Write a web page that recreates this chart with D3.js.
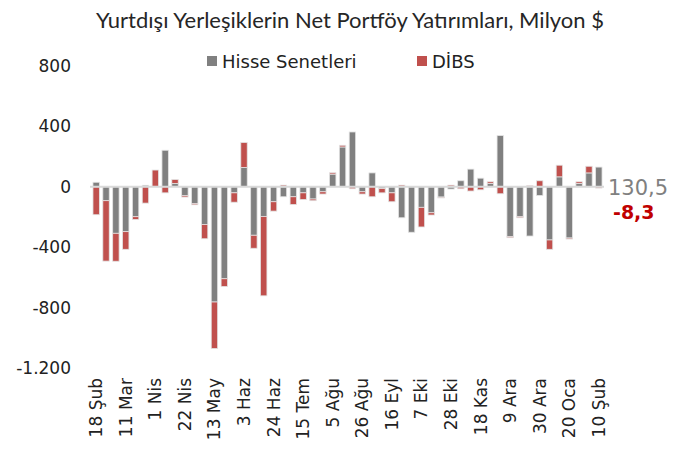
<!DOCTYPE html>
<html>
<head>
<meta charset="utf-8">
<script src="https://cdn.jsdelivr.net/npm/d3@7"></script>
<style>
	body { margin: 0; background: #fff; }
	text { font-family: "DejaVu Sans", sans-serif; }
</style>
</head>
<body>
<div id="chart"></div>
<script>
	// weekly net flows, million USD
	var hisse = [30, -92, -308, -297, -198, 10, 3, 242, 22, -59, -110, -249, -763, -609, -40, 128, -321, -196, -99,
		-66, -66, -40, -81, -33, 84, 264, 363, -33, 92, -11, -40, -205, -301, -136, -172, -68, -15, 40, 117,
		57, 22, 339, -330, -198, -326, -57, -352, 66, -339, 22, 92, 130.5];
	var dibs = [-185, -400, -185, -117, -18, -108, 108, -40, 26, -9, -9, -95, -308, -51, -62, 165, -86, -526, -62,
		11, -51, -44, -11, -15, 9, 11, -13, -15, -66, -29, -59, 11, 0, -130, -15, -6, 11, -13, -28,
		-20, 11, -46, -7, -7, 7, 40, -62, 77, -7, 11, 44, -8.3];
	var weekLabels = ["18 Şub", "11 Mar", "1 Nis", "22 Nis", "13 May", "3 Haz", "24 Haz", "15 Tem", "5 Ağu",
		"26 Ağu", "16 Eyl", "7 Eki", "28 Eki", "18 Kas", "9 Ara", "30 Ara", "20 Oca", "10 Şub"];
	var yTicks = [800, 400, 0, -400, -800, -1200];
	var seriesNames = ["Hisse Senetleri", "DİBS"];
	var colours = ["#808080", "#c0504d"];

	var width = 673, height = 454;

	var svg = d3.select("#chart")
	.append("svg")
	.attr("width", width)
	.attr("height", height);

	var x = d3.scaleBand()
	.domain(d3.range(hisse.length))
	.range([91, 604])
	.paddingInner(0.35)
	.paddingOuter(0.2);

	var y = d3.scaleLinear()
	.domain([-1200, 800])
	.range([368, 66]);

	// turkish style numbers: dot for thousands, comma for decimals, plain hyphen
	var fmt = function(v) {
		return String(v).replace(".", ",").replace(/\B(?=(\d{3})+(?!\d))/g, ".");
	};

	// title
	svg.append("text")
	.attr("x", 350)
	.attr("y", 28)
	.attr("text-anchor", "middle")
	.style("font-family", "Lato, sans-serif")
	.style("font-size", "22px")
	.style("fill", "#262626")
	.text("Yurtdışı Yerleşiklerin Net Portföy Yatırımları, Milyon $");

	// y axis labels
	svg.append("g").selectAll("text")
	.data(yTicks)
	.enter().append("text")
	.attr("x", 71)
	.attr("y", function(d) { return y(d); })
	.attr("dy", "0.35em")
	.attr("text-anchor", "end")
	.style("font-size", "17px")
	.style("fill", "#222")
	.text(fmt);

	// stacked bars: positives stack up, negatives stack down
	var bars = svg.append("g");
	hisse.forEach(function(h, i) {
		var pos = 0, neg = 0;
		[h, dibs[i]].forEach(function(v, s) {
			var base = v >= 0 ? pos : neg;
			var top = base + v;
			if (v >= 0) pos = top; else neg = top;
			bars.append("rect")
			.attr("x", x(i))
			.attr("width", x.bandwidth())
			.attr("y", y(Math.max(base, top)))
			.attr("height", Math.abs(y(base) - y(top)))
			.style("fill", colours[s])
			.style("stroke", "#e3e3e3")
			.style("stroke-width", 0.8);
		});
	});

	// zero line
	svg.append("line")
	.attr("x1", 90)
	.attr("x2", 604)
	.attr("y1", y(0))
	.attr("y2", y(0))
	.style("stroke", "#d9d9d9")
	.style("stroke-width", 2);

	// x labels every 3 weeks, rotated
	svg.append("g").selectAll("text")
	.data(weekLabels)
	.enter().append("text")
	.attr("transform", function(d, k) {
		var cx = x(k * 3) + x.bandwidth() / 2;
		return "translate(" + (cx + 6) + ",378) rotate(-90)";
	})
	.attr("text-anchor", "end")
	.style("font-size", "17px")
	.style("fill", "#222")
	.text(function(d) { return d; });

	// legend
	var legend = svg.append("g");
	var legendX = [207, 417];
	seriesNames.forEach(function(name, s) {
		legend.append("rect")
		.attr("x", legendX[s])
		.attr("y", 56)
		.attr("width", 10)
		.attr("height", 10)
		.style("fill", colours[s]);
		legend.append("text")
		.attr("x", legendX[s] + 15)
		.attr("y", 68)
		.style("font-size", "18px")
		.style("fill", "#222")
		.text(name);
	});

	// last values
	var last = hisse.length - 1;
	svg.append("text")
	.attr("x", 608)
	.attr("y", y(0) + 8)
	.style("font-size", "21px")
	.style("fill", "#808080")
	.text(fmt(hisse[last]));

	svg.append("text")
	.attr("x", 613)
	.attr("y", y(0) + 32)
	.style("font-size", "19px")
	.style("font-weight", "bold")
	.style("fill", "#c00000")
	.text(fmt(dibs[last]));
</script>
</body>
</html>
